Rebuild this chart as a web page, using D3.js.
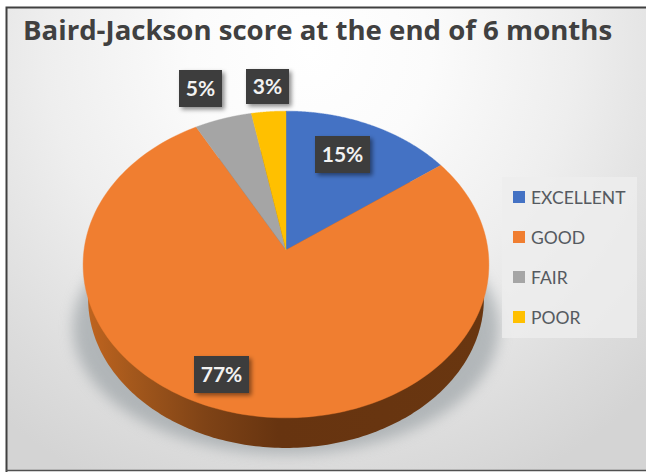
<!DOCTYPE html>
<html>
<head>
<meta charset="utf-8">
<script src="https://cdn.jsdelivr.net/npm/d3@7/dist/d3.min.js"></script>
<style>
  html, body { margin: 0; padding: 0; background: #fff; }
  svg { display: block; }
  text { font-family: Lato, "Open Sans", sans-serif; }
</style>
</head>
<body>
<svg id="chart" width="646" height="472"></svg>
<script>
const chartTitle = "Baird-Jackson score at the end of 6 months";
const categories = ["EXCELLENT", "GOOD", "FAIR", "POOR"];
const percentages = [15, 77, 5, 3];
const sliceColors = ["#4472c4", "#f07e30", "#a5a5a5", "#ffc000"];

const svg = d3.select("#chart");
const defs = svg.append("defs");

// Tilted-disc projection: a point on the unit circle is mapped with a mild
// perspective, so the far half of the pie is foreshortened.
const tilt = 0.0945;
function disc(cx, cy, rx, ry) {
  return (angle, r) => {
    const X = r * Math.sin(angle), Y = r * Math.cos(angle), w = 1 + tilt * Y;
    return [cx + rx * X / w, cy - ry * Y / w];
  };
}
const topFace = disc(286, 250, 202, 152);
const bottomFace = disc(286, 284.5, 197, 148);

const line = d3.line().curve(d3.curveLinear);
const sweep = (a0, a1, n = 180) => d3.range(n + 1).map(i => a0 + (a1 - a0) * i / n);
const wedge = (face, a0, a1) =>
  line([face(0, 0), ...sweep(a0, a1).map(a => face(a, 1))]) + "Z";
const rim = (face) => line(sweep(0, 2 * Math.PI, 360).map(a => face(a, 1))) + "Z";

// Page background
const bg = defs.append("radialGradient").attr("id", "bg")
  .attr("gradientUnits", "userSpaceOnUse")
  .attr("cx", 310).attr("cy", 50).attr("r", 480);
[[0, "#ffffff"], [0.25, "#fbfbfb"], [0.55, "#eeeeee"], [0.85, "#dcdcdc"], [1, "#d4d4d4"]]
  .forEach(([o, c]) => bg.append("stop").attr("offset", o).attr("stop-color", c));
svg.append("rect").attr("x", 7).attr("y", 8).attr("width", 639).attr("height", 462).attr("fill", "url(#bg)");

// Frame
svg.append("path").attr("d", "M6.5,472V7.5H646").attr("fill", "none")
  .attr("stroke", "#404040").attr("stroke-width", 2);
svg.append("path").attr("d", "M6,470.5H646").attr("fill", "none")
  .attr("stroke", "#505050").attr("stroke-width", 1.5);

// Title
svg.append("text").attr("x", 23).attr("y", 39.5)
  .style("font-family", '"Open Sans", sans-serif')
  .attr("font-size", 27.6).attr("font-weight", 700).attr("fill", "#404040")
  .text(chartTitle);

// Soft shadow under the disc
const blur = defs.append("filter").attr("id", "soft")
  .attr("x", "-20%").attr("y", "-20%").attr("width", "140%").attr("height", "140%");
blur.append("feGaussianBlur").attr("stdDeviation", 7);
svg.append("path")
  .attr("d", rim(disc(286, 316, 212, 125)))
  .attr("fill", "#8f979b").attr("opacity", 0.58).attr("filter", "url(#soft)");

// Side wall of the disc
const side = defs.append("linearGradient").attr("id", "side")
  .attr("gradientUnits", "userSpaceOnUse")
  .attr("x1", 83).attr("x2", 489).attr("y1", 0).attr("y2", 0);
[[0, "#c2651f"], [0.12, "#a4581c"], [0.3, "#7f4316"], [0.48, "#673410"], [1, "#693610"]]
  .forEach(([o, c]) => side.append("stop").attr("offset", o).attr("stop-color", c));
svg.append("path").attr("d", rim(bottomFace)).attr("fill", "url(#side)");

// Top face, drawn clockwise from twelve o'clock
const pie = d3.pie().value(d => d).sort(null);
const slices = pie(percentages);
svg.append("g").selectAll("path").data(slices).join("path")
  .attr("d", d => wedge(topFace, d.startAngle, d.endAngle))
  .attr("fill", (d, i) => sliceColors[i])
  .attr("stroke", (d, i) => sliceColors[i]).attr("stroke-width", 0.4);

// Percentage tags
const tagShadow = defs.append("filter").attr("id", "tagShadow")
  .attr("x", "-30%").attr("y", "-30%").attr("width", "170%").attr("height", "170%");
tagShadow.append("feDropShadow").attr("dx", 2.5).attr("dy", 2.5)
  .attr("stdDeviation", 2).attr("flood-color", "#000").attr("flood-opacity", 0.45);
const tagBoxes = [
  { x: 315, y: 136, w: 55, h: 37 },
  { x: 194, y: 356, w: 55, h: 37 },
  { x: 179, y: 70, w: 43, h: 37 },
  { x: 246, y: 69, w: 43, h: 35 }
];
const tags = svg.append("g").selectAll("g").data(percentages).join("g");
tags.append("rect")
  .attr("x", (d, i) => tagBoxes[i].x).attr("y", (d, i) => tagBoxes[i].y)
  .attr("width", (d, i) => tagBoxes[i].w).attr("height", (d, i) => tagBoxes[i].h)
  .attr("fill", "#3d3d3d").attr("filter", "url(#tagShadow)");
tags.append("text")
  .attr("x", (d, i) => tagBoxes[i].x + tagBoxes[i].w / 2)
  .attr("y", (d, i) => tagBoxes[i].y + tagBoxes[i].h / 2 + 7.5)
  .attr("text-anchor", "middle").attr("font-size", 21).attr("font-weight", 700)
  .attr("fill", "#f2f2f2")
  .text(d => d + "%");

// Legend
svg.append("rect").attr("x", 502).attr("y", 177).attr("width", 135).attr("height", 161)
  .attr("fill", "#ededed").attr("opacity", 0.8);
const legendY = d3.scalePoint().domain(categories).range([197, 317]);
const legend = svg.append("g").selectAll("g").data(categories).join("g")
  .attr("transform", d => `translate(513,${legendY(d)})`);
legend.append("rect").attr("x", 0).attr("y", -6).attr("width", 12).attr("height", 12)
  .attr("fill", (d, i) => sliceColors[i]);
legend.append("text").attr("x", 18).attr("y", 6.5)
  .attr("font-size", 17.5).attr("fill", "#555a60").text(d => d);
</script>
</body>
</html>
